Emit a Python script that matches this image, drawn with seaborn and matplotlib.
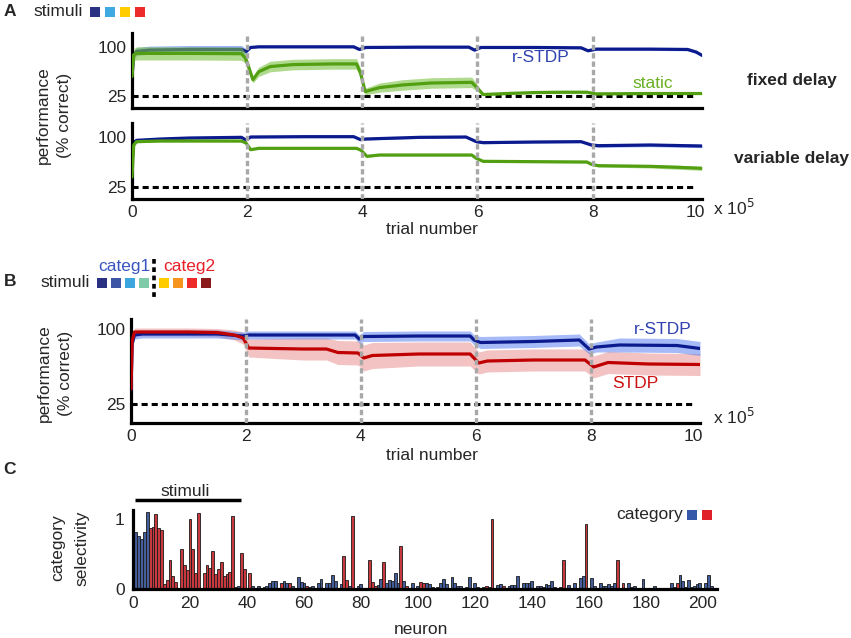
import numpy as np
import pandas as pd
import matplotlib
matplotlib.use("Agg")
import matplotlib.pyplot as plt
from matplotlib.patches import Rectangle
from matplotlib.lines import Line2D
import seaborn as sns

# ---- panel A, fixed delay (trial number in units of 1e5, performance in %)
a1_x_r = [0, 0.03, 0.08, 0.3, 1.0, 1.9, 1.98, 2.06, 2.2, 3.0, 3.85, 3.95, 4.06, 5.0, 5.85, 5.95,
          6.06, 7.0, 7.8, 7.92, 8.06, 9.0, 9.65, 9.8, 9.9]
a1_y_r = [55, 88, 93, 95, 96, 96, 93, 99, 100, 100, 100, 96, 99, 99.5, 99.5, 95,
          99, 99, 98.5, 94, 96.5, 96.5, 96, 92, 87]
a1_sd_r = [3, 6, 6, 6, 6, 6, 4, 1.5, 1.5, 1.5, 1.5, 1.5, 1.5, 1.5, 1.5, 1.5,
           1.5, 1.5, 1.5, 1.5, 2, 2, 2, 2, 2]

a1_x_s = [0, 0.03, 0.08, 0.3, 1.0, 1.9, 1.97, 2.03, 2.1, 2.2, 2.4, 2.8, 3.5, 3.9, 3.97, 4.05,
          4.3, 4.7, 5.2, 5.9, 5.97, 6.1, 6.5, 7.0, 7.5, 7.9, 8.05, 9.0, 9.9]
a1_y_s = [55, 88, 90, 90, 90, 89.5, 83, 68, 50, 62, 70, 73, 74, 74, 60, 32,
          38, 42, 45, 46, 40, 27.5, 29, 30.5, 31, 31, 28.5, 29, 29]
a1_sd_s = [3, 9, 10, 10, 10, 10, 8, 7, 5, 7, 8, 8, 8, 8, 7, 5,
           7, 8, 8, 8, 6, 1.5, 1.5, 1.5, 1.5, 1.5, 1.5, 1.5, 1.5]

# ---- panel A, variable delay
a2_x_r = [0, 0.03, 0.08, 0.5, 1.0, 1.9, 1.98, 2.06, 3.0, 3.85, 3.97, 4.06, 5.0, 5.8, 5.98,
          6.1, 7.0, 7.8, 7.98, 8.1, 9.0, 9.9]
a2_y_r = [60, 92, 95, 97, 98.5, 99.5, 95.5, 100, 100.5, 100.5, 96, 97, 99.5, 100, 93,
          91.5, 92.5, 93, 88, 87, 88, 86.5]
a2_sd_r = [2, 2, 1.5, 1.5, 1.5, 1.5, 1.5, 1.5, 1.5, 1.5, 1.5, 1.5, 1.5, 1.5, 1.5,
           1.5, 1.5, 1.5, 2, 2.5, 2.5, 2.5]

a2_x_s = [0, 0.03, 0.08, 0.5, 1.0, 1.9, 1.98, 2.06, 2.2, 3.0, 3.9, 3.98, 4.08, 4.3, 5.0, 5.9,
          5.98, 6.1, 7.0, 7.9, 7.98, 8.1, 9.0, 9.5, 9.9]
a2_y_s = [40, 88, 93, 94, 94, 94, 91, 81, 83, 83, 83, 80, 71, 73, 73, 73,
          68, 63.5, 63, 62.5, 59, 57, 56, 54.5, 53]
a2_sd_s = [2, 2, 1.5, 1.5, 1.5, 1.5, 1.5, 1.5, 1.5, 1.5, 1.5, 1.5, 1.5, 1.5, 1.5, 1.5,
           1.5, 1.5, 1.5, 1.5, 2, 2, 2.5, 3, 3]

# ---- panel B
b_x_r = [0, 0.02, 0.06, 0.2, 1.0, 1.5, 1.95, 2.05, 3.0, 3.9, 3.97, 4.05, 5.0, 5.9, 5.97,
         6.08, 7.0, 7.8, 7.97, 8.1, 8.5, 9.5, 9.9]
b_y_r = [40, 85, 94, 95, 95, 95, 93, 94, 94, 94, 90, 92.5, 93, 93, 89,
         86.5, 87.5, 89, 80, 82, 84, 83.5, 80.5]
b_sd_r = [3, 4, 4, 4, 4, 4, 4, 4, 4, 4, 4, 5, 5, 5, 5,
          6, 6, 6, 5, 5, 7, 7, 7]

b_x_s = [0, 0.02, 0.06, 0.2, 1.0, 1.5, 1.8, 1.95, 2.05, 2.5, 3.0, 3.4, 3.6, 3.95, 4.05,
         4.2, 5.0, 5.9, 6.05, 6.2, 7.0, 7.9, 8.05, 8.3, 9.0, 9.9]
b_y_s = [40, 88, 97, 97, 97, 96.5, 94, 91, 81, 80.5, 80, 80, 76.5, 76, 71,
         73.5, 75, 75, 66, 68, 69, 69, 62, 66.5, 65, 64.5]
b_sd_s = [3, 4, 4, 4, 4, 4, 5, 6, 9, 10, 11, 11, 12, 12, 13,
          13, 12, 12, 11, 11, 11, 11, 11, 11, 11, 11]

phase_switches = [2, 4, 6, 8]
trial_ticks = [0, 2, 4, 6, 8, 9.78]
trial_labels = ["0", "2", "4", "6", "8", "10"]
chance = 25

# ---- panel C: category selectivity per neuron (1..204), B = categ1, R = categ2
selectivity = [
    0.81, 0.76, 0.72, 0.82, 1.10, 0.87, 0.89, 1.07, 0.87, 0.85,
    0.07, 0.13, 0.41, 0.18, 0.10, 0.01, 0.57, 0.34, 0.27, 1.00,
    0.57, 0.23, 1.09, 0.02, 0.23, 0.34, 0.30, 0.55, 0.22, 0.29,
    0.38, 0.19, 0.22, 0.24, 1.05, 0.03, 0.05, 0.51, 0.28, 0.01,
    0.23, 0.04, 0.02, 0.05, 0.01, 0.03, 0.05, 0.09, 0.11, 0.11,
    0.01, 0.08, 0.11, 0.08, 0.09, 0.05, 0.02, 0.17, 0.10, 0.09,
    0.05, 0.03, 0.05, 0.01, 0.08, 0.14, 0.02, 0.09, 0.09, 0.20,
    0.11, 0.02, 0.07, 0.47, 0.13, 0.05, 1.04, 0.01, 0.05, 0.07,
    0.01, 0.01, 0.41, 0.10, 0.05, 0.06, 0.14, 0.39, 0.09, 0.13,
    0.12, 0.23, 0.09, 0.62, 0.12, 0.05, 0.02, 0.09, 0.01, 0.05,
    0.10, 0.08, 0.08, 0.07, 0.03, 0.01, 0.03, 0.09, 0.14, 0.07,
    0.01, 0.17, 0.09, 0.05, 0.04, 0.01, 0.03, 0.17, 0.01, 0.08,
    0.03, 0.01, 0.03, 0.05, 0.03, 1.00, 0.02, 0.06, 0.07, 0.05,
    0.01, 0.04, 0.06, 0.06, 0.18, 0.01, 0.08, 0.09, 0.08, 0.12,
    0.01, 0.04, 0.05, 0.03, 0.07, 0.06, 0.11, 0.03, 0.01, 0.03,
    0.42, 0.01, 0.06, 0.01, 0.09, 0.01, 0.16, 0.19, 0.93, 0.01,
    0.16, 0.05, 0.02, 0.08, 0.04, 0.04, 0.07, 0.05, 0.08, 0.42,
    0.01, 0.09, 0.01, 0.08, 0.03, 0.05, 0.01, 0.01, 0.14, 0.01,
    0.01, 0.01, 0.04, 0.01, 0.01, 0.01, 0.01, 0.01, 0.08, 0.03,
    0.09, 0.20, 0.11, 0.03, 0.13, 0.03, 0.05, 0.07, 0.08, 0.01,
    0.08, 0.20, 0.05, 0.01,
]
category = (
    "BBBBBRRRRR" "RRRRRRRRRR" "RRRRRRRRRR" "RRRRRRBRRR"
    "RBBBBBBBBB" "BRBBRBBBBB" "RBBBBBBBBB" "BBBRRBRBBB"
    "BBRRRBBRBB" "BBBRBRBBBB" "RRBBBBBBBB" "BBBBBBBBBB"
    "BBBRRRRBBR" "BBBBBBBBBB" "BBBBBBBBRB" "RBBBBBBBRB"
    "BBBBBBBBBR" "BRBBBBBBBB" "BRBRBBBBBB" "RBBBBBBBBB"
    "BBBB"
)

stim_colors_a = ["#2b3284", "#3fa9e1", "#ffcc00", "#ee2b2b"]
stim_colors_b1 = ["#2a3182", "#3c55a5", "#3da6df", "#7fcaa8"]
stim_colors_b2 = ["#ffcc00", "#f7941d", "#ee2a2a", "#8b1a1a"]

BLUE_LINE, BLUE_BAND = "#0b1a8c", "#5b82f0"
GREEN_LINE, GREEN_BAND = "#52a012", "#7cc242"
RED_LINE, RED_BAND = "#c00000", "#ec9a9a"
CAT_BLUE, CAT_RED = "#3558a8", "#e0202a"

sns.set_style("white")
plt.rcParams["font.family"] = ["Liberation Sans", "DejaVu Sans"]
plt.rcParams["font.size"] = 12.5
FS = 12.5

W, H = 851, 638
fig = plt.figure(figsize=(W / 100, H / 100), dpi=100)


def frac(x0, y_top, x1, y_bot):
    return [x0 / W, 1 - y_bot / H, (x1 - x0) / W, (y_bot - y_top) / H]


def ftext(x, y, s, **kw):
    fig.text(x / W, 1 - y / H, s, **kw)


def square(xc, yc, color, size=10):
    fig.add_artist(Rectangle(((xc - size / 2) / W, 1 - (yc + size / 2) / H), size / W, size / H,
                             transform=fig.transFigure, color=color, lw=0))


def style_perf_axis(ax, ylim, show_x):
    ax.set_xlim(0, 9.9)
    ax.set_ylim(*ylim)
    for s in ["top", "right"]:
        ax.spines[s].set_visible(False)
    for s in ["left", "bottom"]:
        ax.spines[s].set_linewidth(2.3)
        ax.spines[s].set_color("black")
    ax.set_yticks([25, 100])
    ax.set_xticks(trial_ticks)
    ax.set_xticklabels(trial_labels)
    ax.tick_params(axis="y", direction="in", length=4, width=2, pad=4, labelsize=FS)
    ax.tick_params(axis="x", length=0, pad=4, labelsize=FS, labelbottom=show_x)
    ax.set_xlabel("")
    ax.set_ylabel("")
    ax.axhline(chance, xmax=0.99, color="black", lw=2.2, ls=(0, (2, 1.3)), zorder=1)
    for xv in phase_switches:
        ax.axvline(xv, color="#a8a8a8", lw=2.4, ls=(0, (1.6, 0.9)), zorder=10)


def band_line(ax, x, y, sd, line_c, band_c, band_alpha, zl):
    x = np.asarray(x); y = np.asarray(y); sd = np.asarray(sd)
    ax.fill_between(x, y - sd, y + sd, color=band_c, alpha=band_alpha, lw=0, zorder=zl)
    df = pd.DataFrame({"trial": x, "perf": y})
    sns.lineplot(data=df, x="trial", y="perf", color=line_c, lw=2.3, ax=ax, zorder=zl + 0.5)


# ---- A, fixed delay
axA1 = fig.add_axes(frac(132, 33, 702, 108))
band_line(axA1, a1_x_r, a1_y_r, a1_sd_r, BLUE_LINE, BLUE_BAND, 0.6, 2)
band_line(axA1, a1_x_s, a1_y_s, a1_sd_s, GREEN_LINE, GREEN_BAND, 0.6, 3)
style_perf_axis(axA1, (7, 121), False)

# ---- A, variable delay
axA2 = fig.add_axes(frac(132, 123, 702, 199))
band_line(axA2, a2_x_r, a2_y_r, a2_sd_r, BLUE_LINE, BLUE_BAND, 0.6, 2)
band_line(axA2, a2_x_s, a2_y_s, a2_sd_s, GREEN_LINE, GREEN_BAND, 0.6, 3)
style_perf_axis(axA2, (7, 121), True)

# ---- B
axB = fig.add_axes(frac(131, 319, 700, 423))
xs, ys, ss = map(np.asarray, (b_x_s, b_y_s, b_sd_s))
axB.fill_between(xs, ys - ss, ys + ss, color=RED_BAND, alpha=0.6, lw=0, zorder=2)
xr, yr, sr = map(np.asarray, (b_x_r, b_y_r, b_sd_r))
axB.fill_between(xr, yr - sr, yr + sr, color=BLUE_BAND, alpha=0.55, lw=0, zorder=2.2)
sns.lineplot(x=xr, y=yr, color=BLUE_LINE, lw=2.3, ax=axB, zorder=3)
sns.lineplot(x=xs, y=ys, color=RED_LINE, lw=2.3, ax=axB, zorder=3.5)
style_perf_axis(axB, (6, 110), True)

# ---- C
axC = fig.add_axes(frac(133, 510, 717, 589))
dfc = pd.DataFrame({"neuron": np.arange(1, len(selectivity) + 1),
                    "sel": selectivity, "cat": list(category)})
sns.barplot(data=dfc, x="neuron", y="sel", hue="cat", palette={"B": CAT_BLUE, "R": CAT_RED},
            native_scale=True, width=1.0, dodge=False, errorbar=None, legend=False,
            edgecolor="#1a1a1a", linewidth=0.6, ax=axC)
axC.set_xlim(0, 205)
axC.set_ylim(0, 1.13)
for s in ["top", "right"]:
    axC.spines[s].set_visible(False)
for s in ["left", "bottom"]:
    axC.spines[s].set_linewidth(2.3)
    axC.spines[s].set_color("black")
axC.set_xticks(range(0, 201, 20))
axC.set_yticks([0, 1])
axC.tick_params(axis="both", length=0, labelsize=FS)
axC.tick_params(axis="x", pad=5)
axC.tick_params(axis="y", pad=6)
axC.set_xlabel("")
axC.set_ylabel("")
axC.plot([0.7, 37.9], [1.277, 1.277], color="black", lw=2.5, clip_on=False, solid_capstyle="butt")
axC.text(18.3, 1.39, "stimuli", ha="center", va="center", fontsize=FS)

# ---- figure texts
bold = dict(fontweight="bold", ha="center", va="center")
ftext(10, 12, "A", fontsize=FS, **bold)
ftext(10, 282, "B", fontsize=FS, **bold)
ftext(10, 470, "C", fontsize=FS, **bold)

ftext(33, 12, "stimuli", ha="left", va="center", fontsize=FS)
for i, c in enumerate(stim_colors_a):
    square(95 + 15 * i, 12, c)

ftext(40, 283, "stimuli", ha="left", va="center", fontsize=FS)
for i, c in enumerate(stim_colors_b1):
    square(102 + 14 * i, 283, c)
for i, c in enumerate(stim_colors_b2):
    square(164 + 14 * i, 283, c)
fig.add_artist(Line2D([154 / W, 154 / W], [1 - 259 / H, 1 - 297 / H], transform=fig.transFigure,
                      color="black", lw=2.6, ls=(0, (1.3, 1.0))))
ftext(124, 266, "categ1", ha="center", va="center", fontsize=FS, color="#3a55c0")
ftext(189, 266, "categ2", ha="center", va="center", fontsize=FS, color="#e8202a")

ftext(792, 80, "fixed delay", fontsize=FS, **bold)
ftext(792, 158, "variable delay", fontsize=FS, **bold)
ftext(541, 57, "r-STDP", ha="center", va="center", fontsize=FS, color="#3042b0")
ftext(653, 83, "static", ha="center", va="center", fontsize=FS, color="#6ab023")
ftext(663, 330, "r-STDP", ha="center", va="center", fontsize=FS, color="#3042b0")
ftext(635, 383, "STDP", ha="center", va="center", fontsize=FS, color="#cc1010")

ftext(54, 115, "performance\n(% correct)", rotation=90, ha="center", va="center",
      fontsize=FS, linespacing=1.45)
ftext(55, 373, "performance\n(% correct)", rotation=90, ha="center", va="center",
      fontsize=FS, linespacing=1.45)
ftext(70, 548, "category\nselectivity", rotation=90, ha="center", va="center",
      fontsize=FS, linespacing=1.75)

ftext(432, 229, "trial number", ha="center", va="center", fontsize=FS)
ftext(432, 455, "trial number", ha="center", va="center", fontsize=FS)
ftext(421, 630, "neuron", ha="center", va="center", fontsize=FS)
ftext(713, 208, r"x 10$^5$", ha="left", va="center", fontsize=FS)
ftext(713, 417, r"x 10$^5$", ha="left", va="center", fontsize=FS)

ftext(683, 514, "category", ha="right", va="center", fontsize=FS)
square(692, 515, CAT_BLUE)
square(707, 515, CAT_RED)

fig.savefig("out.png", dpi=100)
